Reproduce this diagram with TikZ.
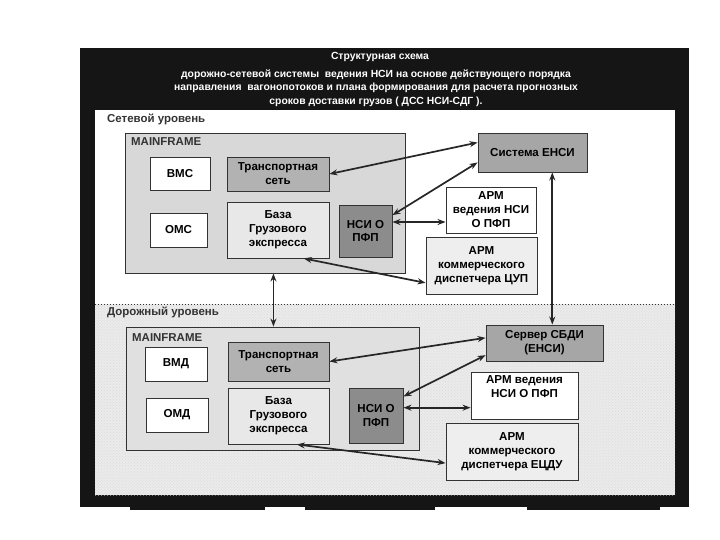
\documentclass[tikz,border=0pt]{standalone}
\usepackage{fontspec}
\setmainfont{Liberation Sans}
\usetikzlibrary{calc,arrows.meta,patterns}
\definecolor{frameblack}{HTML}{151515}
\definecolor{lowbg}{HTML}{EBEBEB}
\definecolor{mfill}{HTML}{D8D8D8}
\definecolor{tsfill}{HTML}{B2B2B2}
\definecolor{bzfill}{HTML}{E8E8E8}
\definecolor{nsifill}{HTML}{8C8C8C}
\definecolor{sysfill}{HTML}{A6A6A6}
\definecolor{cupfill}{HTML}{EEEEEE}
\begin{document}
\begin{tikzpicture}[x=1bp,y=-1bp,
  box/.style={draw=black!80, line width=0.9bp, align=center, inner sep=0pt,
    font=\bfseries\fontsize{11.6}{14}\selectfont},
  lbl/.style={anchor=west, inner sep=0pt, font=\bfseries\fontsize{11.5}{13}\selectfont, text=black!80},
  ttl/.style={text=white, align=center, inner sep=0pt, font=\bfseries\fontsize{10.4}{13.5}\selectfont},
  conn/.style={{Stealth[length=8bp,width=6bp]}-{Stealth[length=8bp,width=6bp]}, line width=1.7bp, black!85}]
\useasboundingbox (0,0) rectangle (720,540);
% outer black frame
\fill[frameblack] (80,48) rectangle (689,507);
\fill[frameblack] (130,505) rectangle (265,510);
\fill[frameblack] (305,505) rectangle (435,510);
\fill[frameblack] (527,505) rectangle (660,510);
% panels
\fill[white] (95,110) rectangle (675,304);
\fill[lowbg] (95,304) rectangle (675,495);
\fill[pattern=crosshatch dots, pattern color=black!15] (95,304) rectangle (675,495);
\draw[dotted, line width=1bp, black!80] (95,304) -- (675,304);
% title
\node[ttl] (t1) at (380,57) {Структурная схема};
\node[ttl] (t2) at (376,88) {дорожно-сетевой системы\ \ ведения НСИ на основе действующего порядка\\
направления\ \ вагонопотоков и плана формирования для расчета прогнозных\\
сроков доставки грузов ( ДСС НСИ-СДГ ).};
% level labels
\node[lbl] (lv1) at (107,119) {Сетевой уровень};
\node[lbl] (lv2) at (107,312) {Дорожный уровень};
% ---------------- top level
\node[box, fill=mfill, minimum width=280bp, minimum height=140bp] (mf1) at (265,203) {};
\node[lbl] (mfl1) at (131,142) {MAINFRAME};
\node[box, fill=white, minimum width=60bp, minimum height=33bp] (vms) at (180,173.5) {ВМС};
\node[box, fill=white, minimum width=57bp, minimum height=34bp] (oms) at (178.5,230) {ОМС};
\node[box, fill=tsfill, minimum width=102bp, minimum height=34bp] (ts1) at (278,174) {Транспортная\\сеть};
\node[box, fill=bzfill, minimum width=102bp, minimum height=56bp] (bz1) at (278,230) {База\\Грузового\\экспресса};
\node[box, fill=nsifill, minimum width=53bp, minimum height=52bp] (nsi1) at (365.5,231) {НСИ О\\ПФП};
\node[box, fill=sysfill, minimum width=109bp, minimum height=39bp] (sys) at (532.5,152.5) {Система ЕНСИ};
\node[box, fill=white, minimum width=90bp, minimum height=46bp] (arm1) at (491,210) {АРМ\\ведения НСИ\\О ПФП};
\node[box, fill=cupfill, minimum width=111bp, minimum height=57bp] (cup) at (481.5,265.5) {АРМ\\коммерческого\\диспетчера ЦУП};
% ---------------- road level
\node[box, fill=mfill!80!white, minimum width=293bp, minimum height=123bp] (mf2) at (272.5,388.5) {};
\node[lbl] (mfl2) at (132,338) {MAINFRAME};
\node[box, fill=white, minimum width=62bp, minimum height=34bp] (vmd) at (176,364) {ВМД};
\node[box, fill=white, minimum width=62bp, minimum height=34bp] (omd) at (177,415) {ОМД};
\node[box, fill=tsfill, minimum width=101bp, minimum height=39bp] (ts2) at (278.5,361.5) {Транспортная\\сеть};
\node[box, fill=bzfill, minimum width=101bp, minimum height=56bp] (bz2) at (278.5,416) {База\\Грузового\\экспресса};
\node[box, fill=nsifill, minimum width=54bp, minimum height=55bp] (nsi2) at (376,415.5) {НСИ О\\ПФП};
\node[box, fill=sysfill, minimum width=117bp, minimum height=36bp] (srv) at (544.5,343) {Сервер СБДИ\\(ЕНСИ)};
\node[box, fill=white, minimum width=107bp, minimum height=47bp] (arm2) at (524.5,395.5) {АРМ ведения\\НСИ О ПФП\\[4bp]};
\node[box, fill=cupfill, minimum width=132bp, minimum height=57bp] (ecdu) at (512,451.5) {АРМ\\коммерческого\\диспетчера ЕЦДУ};
% ---------------- connectors top
\draw[conn] (ts1.east) -- ($(sys.north west)!0.25!(sys.south west)$);
\draw[conn] ($(nsi1.north east)!0.2!(nsi1.south east)$) -- ($(sys.north west)!0.75!(sys.south west)$);
\coordinate (n1e) at ($(nsi1.north east)!0.33!(nsi1.south east)$);
\draw[conn] (n1e) -- (n1e -| arm1.west);
\draw[conn] ($(bz1.south west)!0.75!(bz1.south east)$) -- ($(cup.north west)!0.8!(cup.south west)$);
\coordinate (mfv) at ($(mf1.south west)!0.53!(mf1.south east)$);
\draw[conn] (mfv) -- (mfv |- mf2.north);
\coordinate (sysv) at ($(sys.south west)!0.68!(sys.south east)$);
\draw[conn] (sysv) -- (sysv |- srv.north);
% ---------------- connectors road
\draw[conn] (ts2.east) -- ($(srv.north west)!0.36!(srv.south west)$);
\draw[conn] ($(nsi2.north east)!0.16!(nsi2.south east)$) -- ($(srv.north west)!0.83!(srv.south west)$);
\coordinate (n2e) at ($(nsi2.north east)!0.36!(nsi2.south east)$);
\draw[conn] (n2e) -- (n2e -| arm2.west);
\draw[conn] ($(bz2.south west)!0.68!(bz2.south east)$) -- ($(ecdu.north west)!0.7!(ecdu.south west)$);
\end{tikzpicture}
\end{document}
